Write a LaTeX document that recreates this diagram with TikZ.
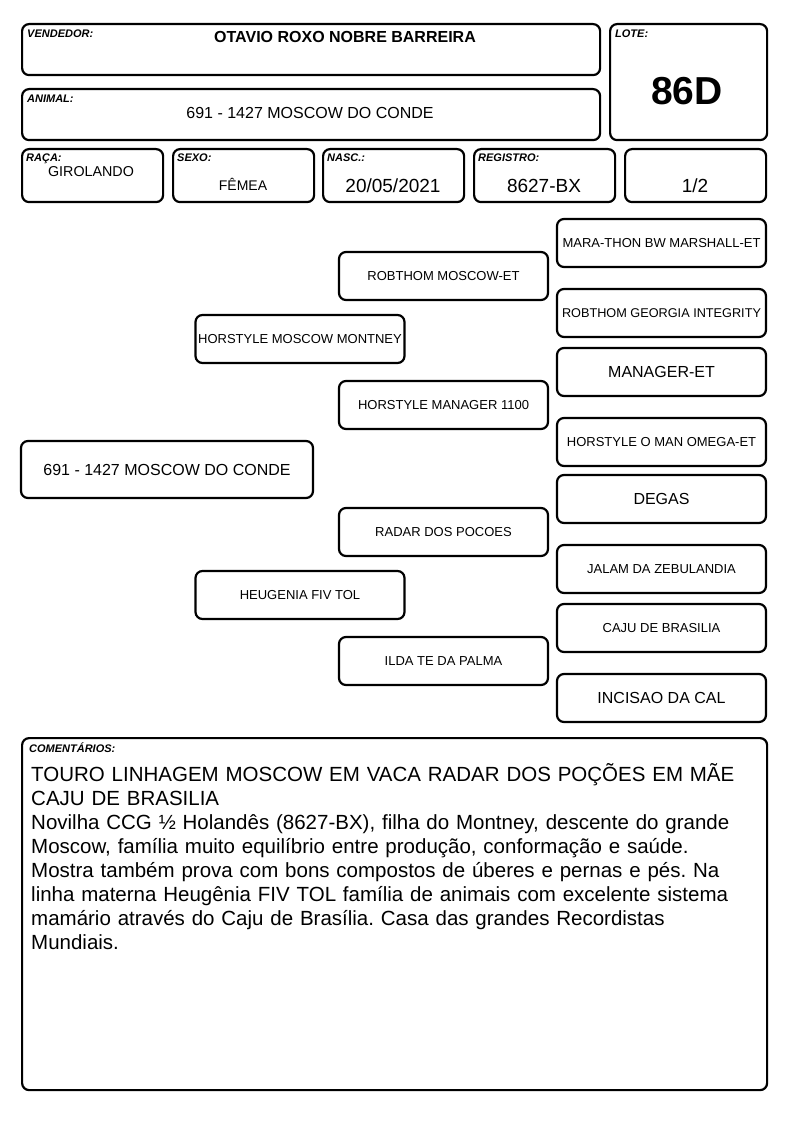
\documentclass[tikz,border=0pt]{standalone}
\usepackage{fontspec}
\setmainfont{Liberation Sans}
\usetikzlibrary{positioning}
\newcommand{\Lbl}{\fontsize{11}{12}\selectfont\bfseries\itshape}
\newcommand{\Ped}{\fontsize{13}{15}\selectfont}
\newcommand{\PedSm}{\fontsize{12.7}{15}\selectfont}
\newcommand{\PedLg}{\fontsize{16}{18}\selectfont}
\tikzset{
  card/.style={draw, line width=2.2pt, rounded corners=7pt, anchor=north west, inner sep=0pt},
  cardlbl/.style={anchor=north west, font=\Lbl, inner sep=0pt},
  pedbox/.style={draw, line width=2.2pt, rounded corners=7pt, minimum width=209pt,
                 minimum height=48pt, inner sep=1pt, font=\Ped},
}

\begin{document}
\begin{tikzpicture}[x=1pt,y=-1pt]
  \useasboundingbox (0,0) rectangle (794,1123);
  % header cards
  \node[card, minimum width=578pt, minimum height=51pt] (vend) at (21,23) {};
  \node[card, minimum width=157pt, minimum height=116pt] (lote) at (609,23) {};
  \node[card, minimum width=578pt, minimum height=51pt] (anim) at (21,88) {};
  \foreach \nm/\xx in {raca/21, sexo/172, nasc/322, regi/473, part/624}{
    \node[card, minimum width=141pt, minimum height=53pt] (\nm) at (\xx,148) {};
  }
  \node[cardlbl] at ([shift={(6pt,-7pt)}]vend.north west) {VENDEDOR:};
  \node[cardlbl] at ([shift={(6pt,-7pt)}]lote.north west) {LOTE:};
  \node[cardlbl] at ([shift={(6pt,-7pt)}]anim.north west) {ANIMAL:};
  \foreach \nm/\tx in {raca/RAÇA:, sexo/SEXO:, nasc/NASC.:, regi/REGISTRO:}{
    \node[cardlbl] at ([shift={(5pt,-6pt)}]\nm.north west) {\tx};
  }
  \node[font=\fontsize{16}{18}\selectfont\bfseries] (vendnm) at (345,37) {OTAVIO ROXO NOBRE BARREIRA};
  \node[font=\fontsize{39}{42}\selectfont\bfseries] (lotenr) at (687,91) {86D};
  \node[font=\fontsize{16}{18}\selectfont] (animnm) at (310,113) {691 - 1427 MOSCOW DO CONDE};
  \node[font=\fontsize{14.3}{16}\selectfont] (racatx) at (91,172) {GIROLANDO};
  \node[font=\fontsize{14}{16}\selectfont] (sexotx) at (243,184) {FÊMEA};
  \node[font=\fontsize{19}{21}\selectfont] (nasctx) at (393,186) {20/05/2021};
  \node[font=\fontsize{19}{21}\selectfont] (regitx) at (544,186) {8627-BX};
  \node[font=\fontsize{19}{21}\selectfont] (parttx) at (695,186) {1/2};

  % pedigree
  \node[pedbox, minimum width=292pt, minimum height=57pt, font=\PedLg] (anim0) at (167,469.5)
    {691 - 1427 MOSCOW DO CONDE};
  \foreach \nm/\yy/\tx in {pai/339/HORSTYLE MOSCOW MONTNEY, mae/595/HEUGENIA FIV TOL}{
    \node[pedbox] (\nm) at (300,\yy) {\tx};
  }
  \foreach \nm/\yy/\tx in {avop/276/ROBTHOM MOSCOW-ET, avap/405/HORSTYLE MANAGER 1100,
                           avom/532/RADAR DOS POCOES, avam/661/ILDA TE DA PALMA}{
    \node[pedbox] (\nm) at (443.5,\yy) {\tx};
  }
  \foreach \nm/\yy/\fn/\tx in {bisa/243/\Ped/MARA-THON BW MARSHALL-ET,
                               bisb/313/\PedSm/ROBTHOM GEORGIA INTEGRITY,
                               bisc/372/\PedLg/MANAGER-ET,
                               bisd/442/\Ped/HORSTYLE O MAN OMEGA-ET,
                               bise/499/\PedLg/DEGAS,
                               bisf/569/\Ped/JALAM DA ZEBULANDIA,
                               bisg/628/\Ped/CAJU DE BRASILIA,
                               bish/698/\PedLg/INCISAO DA CAL}{
    \node[pedbox, font=\fn] (\nm) at (661.5,\yy) {\tx};
  }

  % comments
  \node[card, minimum width=745pt, minimum height=352pt] (coment) at (21,737) {};
  \node[cardlbl] at ([shift={(8pt,-6pt)}]coment.north west) {COMENTÁRIOS:};
  \node[anchor=base west, inner sep=0pt, text width=740pt, align=left,
        font=\fontsize{20.5}{24}\selectfont\frenchspacing] (comtx) at (31,781)
    {TOURO LINHAGEM MOSCOW EM VACA RADAR DOS POÇÕES EM MÃE\\
     CAJU DE BRASILIA\\
     Novilha CCG ½ Holandês (8627-BX), filha do Montney, descente do grande\\
     Moscow, família muito equilíbrio entre produção, conformação e saúde.\\
     Mostra também prova com bons compostos de úberes e pernas e pés. Na\\
     linha materna Heugênia FIV TOL família de animais com excelente sistema\\
     mamário através do Caju de Brasília. Casa das grandes Recordistas\\
     Mundiais.};
\end{tikzpicture}
\end{document}
